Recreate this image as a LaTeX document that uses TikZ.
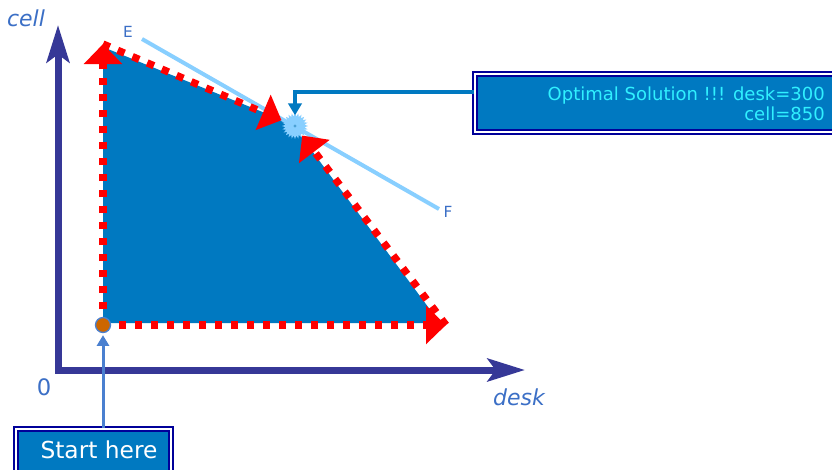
\documentclass[tikz,border=0pt]{standalone}
\usepackage{fontspec}
\setmainfont{DejaVu Sans}
\usetikzlibrary{arrows.meta,shapes.geometric}
\definecolor{areablue}{HTML}{0079C1}
\definecolor{axisblue}{HTML}{363897}
\definecolor{lineblue}{HTML}{88CFFF}
\definecolor{labelblue}{HTML}{3B6FC6}
\definecolor{navyb}{HTML}{000099}
\definecolor{solcyan}{HTML}{30F0FF}
\definecolor{connblue}{HTML}{4A80D0}
\definecolor{startorange}{HTML}{CC6600}
\begin{document}
\begin{tikzpicture}[x=0.75pt,y=-0.75pt,
  axisline/.style={draw=axisblue, line width=5.25pt, line join=miter,
    arrows={Stealth[length=28pt,width=17pt,inset=6pt]-Stealth[length=28pt,width=17pt,inset=6pt]}},
  reddot/.style={draw=red, line width=5.5pt, dash pattern=on 5.5pt off 6.5pt,
    -{Triangle[length=15pt,width=28pt]}},
  efline/.style={draw=lineblue, line width=3pt},
  axislbl/.style={text=labelblue, font=\fontsize{16.5}{18}\selectfont\itshape, inner sep=0pt},
  zerolbl/.style={text=labelblue, font=\fontsize{17}{18}\selectfont, inner sep=0pt},
  ptlbl/.style={text=labelblue, font=\fontsize{11.5}{12}\selectfont, inner sep=0pt},
  boxstyle/.style={fill=areablue, draw=navyb, double=white, line width=1.5pt,
    double distance=1.5pt, inner sep=0pt},
  soltext/.style={text=solcyan, align=right, inner sep=0pt,
    font=\fontsize{13.5}{15}\selectfont},
  starttext/.style={text=white, inner sep=0pt, font=\fontsize{17.5}{19}\selectfont},
  optconn/.style={draw=areablue, line width=3pt, -{Triangle[length=9pt,width=10pt]}},
  startconn/.style={draw=connblue, line width=2.25pt, -{Triangle[length=8pt,width=9pt]}},
  burst/.style={star, star points=24, star point ratio=1.35, fill=lineblue,
    minimum size=19.5pt, inner sep=0pt},
  startdot/.style={circle, fill=startorange, draw=connblue, line width=1pt,
    minimum size=11.25pt, inner sep=0pt}
]
\useasboundingbox (0,0) rectangle (832,469);
\fill[white] (0,0) rectangle (832,469);

% coordinates
\coordinate (S) at (103,325);
\coordinate (TL) at (103,44);
\coordinate (O) at (295,126);
\coordinate (BR) at (446,325);
\coordinate (orig) at (58,370);
\coordinate (ytip) at (58,25);
\coordinate (xtip) at (525,370);
\coordinate (E0) at (142,39);
\coordinate (F0) at (439,209);

% feasible region
\fill[areablue] (103,47) -- (292,124) -- (440,323) -- (103,323) -- cycle;

% axes
\draw[axisline] (ytip) -- (orig) -- (xtip);

% objective line
\draw[efline] (E0) -- (F0);

% red paths
\draw[reddot] (S) -- (TL);
\draw[reddot, shorten >=11pt] (TL) -- (O);
\draw[reddot] (S) -- (BR);
\draw[reddot, shorten >=9pt] (BR) -- (O);

% optimum
\node[burst] (opt) at (O) {};
\node[circle, fill=areablue!70, minimum size=2.5pt, inner sep=0pt] (optdot) at (O) {};

% optimal box
\node[boxstyle, minimum width=270.75pt, minimum height=43.5pt] (optbox) at (655.5,103) {};
\node[soltext, anchor=east] (sol) at (825,103.5) {Optimal Solution !!! desk=300\\cell=850};
\draw[optconn, shorten >=8pt] ([yshift=8.25pt]optbox.west) -| (opt.center);

% start
\node[boxstyle, minimum width=116.25pt, minimum height=38.25pt] (startbox) at (93.5,454.5) {};
\node[starttext] (start) at (99,450) {Start here};
\node[startdot] (startpt) at (S) {};
\draw[startconn, shorten >=1.5pt] (startbox.north -| startpt) -- (startpt);

% labels
\node[axislbl] (celllbl) at (26,18) {cell};
\node[axislbl] (desklbl) at (519,397) {desk};
\node[zerolbl] (zero) at (44,387) {0};
\node[ptlbl] (Elbl) at (128,32) {E};
\node[ptlbl] (Flbl) at (448,212) {F};
\end{tikzpicture}
\end{document}
